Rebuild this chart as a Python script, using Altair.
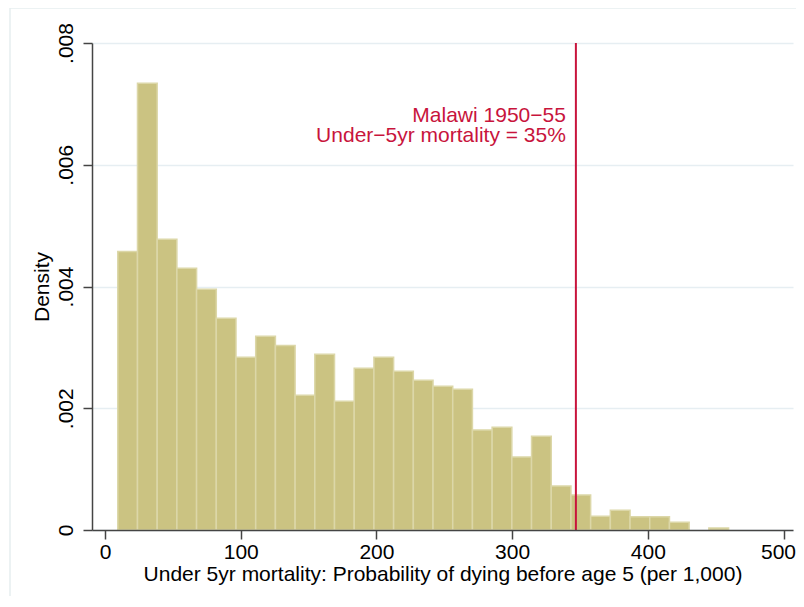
import altair as alt
import pandas as pd

# Histogram data (density per bin)
bin_start = 9.4
bin_width = 14.52
density = [
    0.004573, 0.007340, 0.004777, 0.004300, 0.003955, 0.003478, 0.002837,
    0.003182, 0.003029, 0.002213, 0.002886, 0.002114, 0.002657, 0.002837,
    0.002607, 0.002459, 0.002361, 0.002311, 0.001643, 0.001687, 0.001199,
    0.001539, 0.000723, 0.000575, 0.000225, 0.000323, 0.000219, 0.000219,
    0.000126, 0.0, 0.000033,
]
x_ticks = [0, 100, 200, 300, 400, 500]
y_ticks = [0, 0.002, 0.004, 0.006, 0.008]
malawi_u5 = 347
annot_y = 0.0067
annot_lines = ["Malawi 1950\u221255", "Under\u22125yr mortality = 35%"]

left = [bin_start + i * bin_width for i in range(len(density))]
df = pd.DataFrame({
    "left": left,
    "right": [l + bin_width for l in left],
    "density": density,
})

FONT = "Liberation Sans"
RED = "#C8143C"
FS = 21

xscale = alt.Scale(domain=[-9.6, 507], nice=False, zero=False)
yscale = alt.Scale(domain=[0, 0.008], nice=False)

frame = alt.Chart(pd.DataFrame({"a": [0]})).mark_rect(
    fill=None, stroke="#E6EEF0", strokeWidth=1.5, clip=False
).encode(
    x=alt.value(-82), x2=alt.value(740), y=alt.value(-35), y2=alt.value(620)
)

bars = alt.Chart(df).transform_filter("datum.density > 0").mark_rect(
    fill="#CBC382", stroke="#DCD7A8", strokeWidth=1.5
).encode(
    x=alt.X("left:Q", scale=xscale, axis=alt.Axis(
        values=x_ticks, title="Under 5yr mortality: Probability of dying before age 5 (per 1,000)",
        grid=False, zindex=1, tickSize=9, labelPadding=2, titlePadding=1,
        labelFlush=11, labelFlushOffset=12,
        domainColor="#444444", tickColor="#444444", domainWidth=1.5, tickWidth=1.5,
        labelFontSize=FS, titleFontSize=FS, labelFont=FONT, titleFont=FONT,
        labelColor="#000000", titleColor="#000000", titleFontWeight="normal",
    )),
    x2="right:Q",
    y=alt.Y("density:Q", scale=yscale, axis=alt.Axis(
        values=y_ticks, title="Density",
        labelExpr="datum.value == 0 ? '0' : substring(format(datum.value, '.3f'), 1)",
        labelAngle=-90, labelAlign="center", labelBaseline="bottom",
        grid=True, gridColor="#E6EEF2", gridWidth=1.5, zindex=0,
        tickSize=9, labelPadding=7, titlePadding=3,
        domainColor="#444444", tickColor="#444444", domainWidth=1.5, tickWidth=1.5,
        labelFontSize=FS, titleFontSize=FS, labelFont=FONT, titleFont=FONT,
        labelColor="#000000", titleColor="#000000", titleFontWeight="normal",
    )),
    y2=alt.datum(0),
)

rule = alt.Chart(pd.DataFrame({"x": [malawi_u5]})).mark_rule(
    color=RED, strokeWidth=2
).encode(
    x=alt.X("x:Q", scale=xscale),
    y=alt.datum(0),
    y2=alt.datum(0.008),
)

text = alt.Chart(pd.DataFrame({"x": [malawi_u5], "y": [annot_y]})).mark_text(
    text=annot_lines, align="right", baseline="alphabetic", dx=-10,
    fontSize=FS, font=FONT, color=RED, lineHeight=20
).encode(
    x=alt.X("x:Q", scale=xscale),
    y=alt.Y("y:Q", scale=yscale),
)

chart = alt.layer(frame, bars, rule, text).properties(
    width=701, height=487,
    autosize=alt.AutoSizeParams(type="none"),
    padding={"left": 84, "top": 35, "right": 3, "bottom": 66},
    background="#FFFFFF",
).configure_view(stroke=None)

chart.save("out.html", embed_options={"renderer": "svg", "actions": False})
